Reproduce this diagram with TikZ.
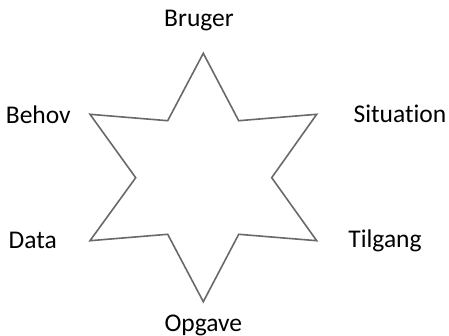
\documentclass[tikz,border=0pt]{standalone}
\usepackage{fontspec}
\setmainfont[Ligatures=NoCommon]{Carlito}
\definecolor{stargray}{RGB}{105,105,105}
\tikzset{
  lbl/.style={font=\fontsize{25.5}{30}\selectfont, inner sep=0pt},
  starline/.style={draw=stargray, line width=1.6pt, line join=miter}
}
\begin{document}
\begin{tikzpicture}[x=1pt,y=-1pt]
\useasboundingbox (0,0) rectangle (449,336);
% star points
\coordinate (tTop) at (203.3,53.3);
\coordinate (iTL) at (167.7,120.7);
\coordinate (tTL) at (90,114.3);
\coordinate (iL) at (135.7,177.7);
\coordinate (tBL) at (90,240.7);
\coordinate (iBL) at (167.7,234.3);
\coordinate (tBot) at (203.3,301.7);
\coordinate (iBR) at (238.7,234.3);
\coordinate (tBR) at (316.7,240.7);
\coordinate (iR) at (271.7,177.7);
\coordinate (tTR) at (316.7,114.3);
\coordinate (iTR) at (238.7,120.7);
\draw[starline] (tTop) -- (iTR) -- (tTR) -- (iR) -- (tBR) -- (iBR) -- (tBot)
  -- (iBL) -- (tBL) -- (iL) -- (tTL) -- (iTL) -- cycle;
% labels
\node[lbl] (bruger) at (199,21) {Bruger};
\node[lbl] (behov) at (38.3,114.3) {Behov};
\node[lbl] (situation) at (400,114.3) {Situation};
\node[lbl] (data) at (32.7,240.7) {Data};
\node[lbl] (tilgang) at (385,240.7) {Tilgang};
\node[lbl] (opgave) at (203.3,325) {Opgave};
\end{tikzpicture}
\end{document}
